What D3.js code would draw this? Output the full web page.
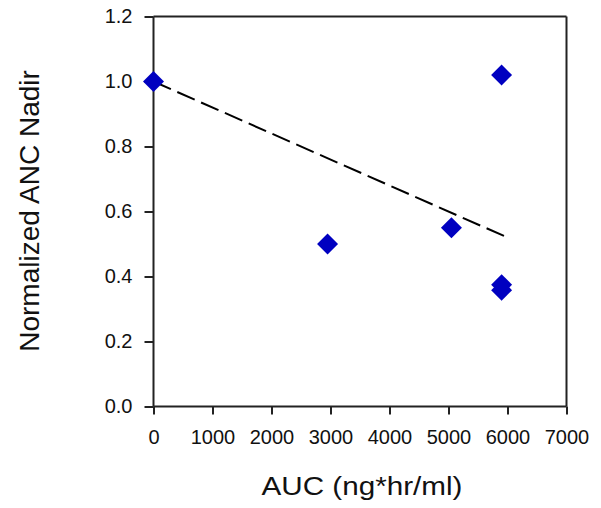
<!DOCTYPE html>
<html><head><meta charset="utf-8">
<script src="https://cdn.jsdelivr.net/npm/d3@7"></script>
<style>body{margin:0;background:#fff}svg{display:block}</style>
</head><body>
<script>
const aucValues = [0, 2950, 5050, 5900, 5900, 5900];
const ancNadir = [1.0, 0.50, 0.55, 1.02, 0.375, 0.358];
const fitX = [0, 6000];
const fitY = [1.0, 0.52];
const xTicks = [0, 1000, 2000, 3000, 4000, 5000, 6000, 7000];
const yTicks = [0.0, 0.2, 0.4, 0.6, 0.8, 1.0, 1.2];

const W = 601, H = 508;
const svg = d3.select("body").append("svg").attr("width", W).attr("height", H);
const x = d3.scaleLinear().domain([0, 7000]).range([153.5, 566.5]);
const y = d3.scaleLinear().domain([0, 1.2]).range([406.5, 16.5]);
const font = "'Liberation Sans', Arial, sans-serif";

// frame top/right
svg.append("line").attr("x1", x(0)).attr("x2", x(7000)).attr("y1", y(1.2)).attr("y2", y(1.2)).attr("stroke", "#222").attr("stroke-width", 2);
svg.append("line").attr("x1", x(7000)).attr("x2", x(7000)).attr("y1", y(1.2)).attr("y2", y(0)).attr("stroke", "#222").attr("stroke-width", 2);

const xAxis = svg.append("g").attr("transform", `translate(0,${y(0)})`)
  .call(d3.axisBottom(x).tickValues(xTicks).tickFormat(d3.format("d")).tickSize(8).tickPadding(15).tickSizeOuter(0));
const yAxis = svg.append("g").attr("transform", `translate(${x(0)},0)`)
  .call(d3.axisLeft(y).tickValues(yTicks).tickFormat(d3.format(".1f")).tickSize(9).tickPadding(12).tickSizeOuter(0));
[xAxis, yAxis].forEach(g => {
  g.attr("font-size", null).attr("font-family", null);
  g.selectAll("path, line").attr("stroke", "#222").attr("stroke-width", 2);
  g.selectAll("text").style("font-family", font).style("font-size", "20px").attr("fill", "#111");
});
xAxis.select(".domain").attr("d", `M${x(0)},0H${x(7000)}`);
yAxis.select(".domain").attr("d", `M0,${y(0)}V${y(1.2)}`);

// fit line
svg.append("line").attr("x1", x(fitX[0])).attr("y1", y(fitY[0])).attr("x2", x(fitX[1])).attr("y2", y(fitY[1]))
  .attr("stroke", "#000").attr("stroke-width", 2).attr("stroke-dasharray", "19,7");

// points
const sym = d3.symbol().type(d3.symbolSquare).size(220);
svg.selectAll(".pt").data(aucValues.map((v, i) => [v, ancNadir[i]])).join("path")
  .attr("class", "pt")
  .attr("d", sym)
  .attr("transform", d => `translate(${x(d[0])},${y(d[1])}) rotate(45)`)
  .attr("fill", "#0000c0");

// titles
svg.append("text").attr("x", 362).attr("y", 495).attr("text-anchor", "middle")
  .style("font-family", font).style("font-size", "26px").attr("fill", "#111")
  .attr("textLength", 201).attr("lengthAdjust", "spacingAndGlyphs").text("AUC (ng*hr/ml)");
svg.append("text").attr("transform", `translate(39,211) rotate(-90)`).attr("text-anchor", "middle")
  .style("font-family", font).style("font-size", "28px").attr("fill", "#111").text("Normalized ANC Nadir");
</script>
</body></html>
